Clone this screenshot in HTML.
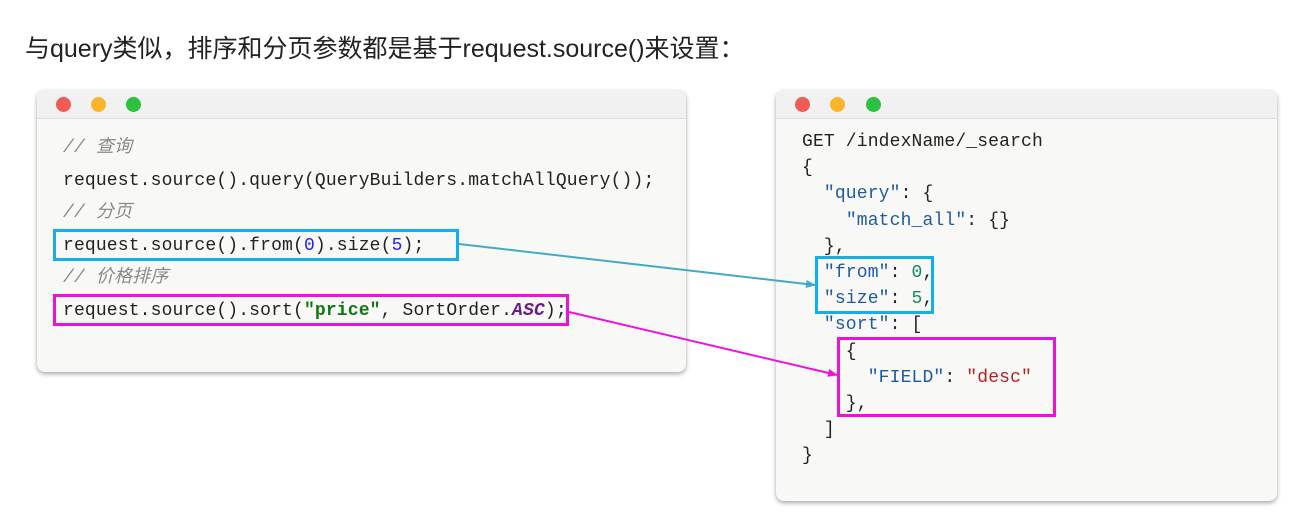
<!DOCTYPE html>
<html><head><meta charset="utf-8"><style>
body{margin:0;width:1296px;height:517px;background:#fff;position:relative;overflow:hidden;font-family:"Liberation Sans","Noto Sans CJK SC",sans-serif}
.title{position:absolute;left:25px;top:29px;font-size:25px;color:#222;white-space:nowrap}
.win{position:absolute;background:#f8f9f7;border-radius:8px;box-shadow:0 2px 5px rgba(0,0,0,.35)}
.bar{height:28px;background:#f1f1f1;border-bottom:1px solid #ddd;border-radius:8px 8px 0 0;position:relative}
.dot{position:absolute;top:7px;width:15px;height:15px;border-radius:50%}
.code{position:absolute;font-family:"Liberation Mono","Noto Sans CJK SC",monospace;font-size:18px;letter-spacing:0.15px;white-space:pre;color:#222}
.c{color:#888;font-style:italic}
.k{color:#1f5aa0}.n{color:#138a5c}.s{color:#b22222}
.box{position:absolute;border:3px solid;box-sizing:border-box}
</style></head><body>
<div class="title">与query类似，排序和分页参数都是基于request.source()来设置：</div>

<div class="win" style="left:37px;top:90px;width:649px;height:282px">
<div class="bar"><div class="dot" style="left:19px;background:#f15b55"></div><div class="dot" style="left:54px;background:#f9b52c"></div><div class="dot" style="left:89px;background:#2cc140"></div></div>
</div>
<div class="code" style="left:63px;top:132px;line-height:32.6px"><span class="c">// 查询</span>
request.source().query(QueryBuilders.matchAllQuery());
<span class="c">// 分页</span>
request.source().from(<span style="color:#2222ee">0</span>).size(<span style="color:#2222ee">5</span>);
<span class="c">// 价格排序</span>
request.source().sort(<b style="color:#117711">"price"</b>, SortOrder.<b style="color:#6a1b8a;font-style:italic">ASC</b>);</div>
<div class="box" style="left:53px;top:229px;width:406px;height:32px;border-color:#11b0ea"></div>
<div class="box" style="left:53px;top:294px;width:516px;height:32px;border-color:#ee11dd"></div>

<div class="win" style="left:776px;top:90px;width:501px;height:411px">
<div class="bar"><div class="dot" style="left:19px;background:#f15b55"></div><div class="dot" style="left:54px;background:#f9b52c"></div><div class="dot" style="left:90px;background:#2cc140"></div></div>
</div>
<div class="code" style="left:802px;top:129px;line-height:26.2px">GET /indexName/_search
{
  <span class="k">"query"</span>: {
    <span class="k">"match_all"</span>: {}
  },
  <span class="k">"from"</span>: <span class="n">0</span>,
  <span class="k">"size"</span>: <span class="n">5</span>,
  <span class="k">"sort"</span>: [
    {
      <span class="k">"FIELD"</span>: <span class="s">"desc"</span>
    },
  ]
}</div>
<div class="box" style="left:815px;top:256px;width:119px;height:58px;border-color:#11b0ea"></div>
<div class="box" style="left:837px;top:337px;width:219px;height:80px;border-color:#ee11dd"></div>

<svg width="1296" height="517" style="position:absolute;left:0;top:0">
<defs>
<marker id="a1" markerWidth="10" markerHeight="8" refX="9" refY="4" orient="auto" markerUnits="userSpaceOnUse"><path d="M0,0L10,4L0,8z" fill="#45a8c8"/></marker>
<marker id="a2" markerWidth="10" markerHeight="8" refX="9" refY="4" orient="auto" markerUnits="userSpaceOnUse"><path d="M0,0L10,4L0,8z" fill="#ee11dd"/></marker>
</defs>
<line x1="459" y1="244" x2="815" y2="285" stroke="#45a8c8" stroke-width="2" marker-end="url(#a1)"/>
<line x1="569" y1="312" x2="837" y2="375" stroke="#ee11dd" stroke-width="2" marker-end="url(#a2)"/>
</svg>
</body></html>
